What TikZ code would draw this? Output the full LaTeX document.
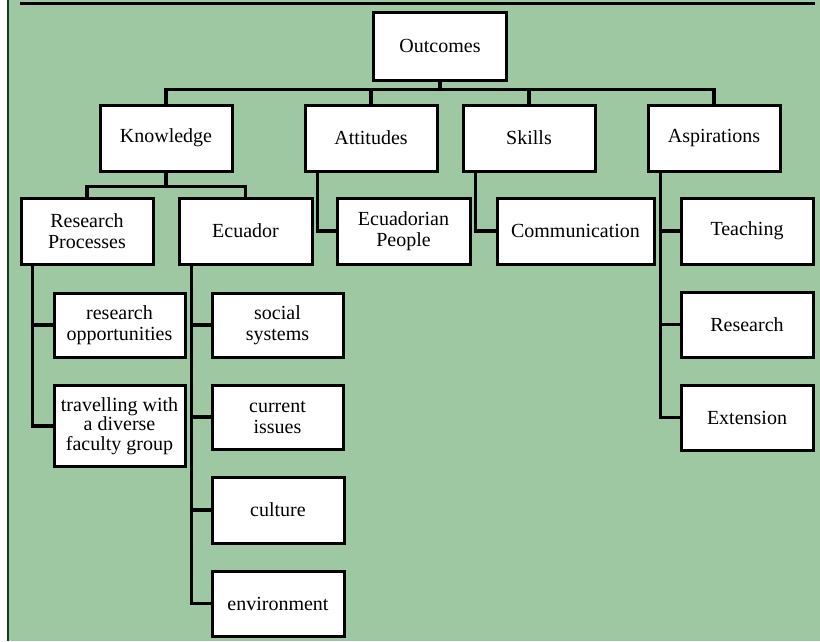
\documentclass[tikz,border=0pt]{standalone}
\usepackage{fontspec}
\setmainfont{Liberation Serif}
\definecolor{bggreen}{RGB}{158,200,161}
\definecolor{edgegreen}{RGB}{28,58,40}
\tikzset{
  box/.style={draw=black, fill=white, line width=3pt, inner sep=0pt, align=center,
    font=\fontsize{20}{21}\selectfont, minimum width=132pt, minimum height=66pt},
  conn/.style={draw=black, line width=3.1pt},
}
\begin{document}
\begin{tikzpicture}[x=1pt,y=-1pt]
\useasboundingbox (0,0) rectangle (820,641);
\fill[white] (0,0) rectangle (820,641);
\fill[bggreen] (9,0) rectangle (820,641);
\draw[edgegreen, line width=2.5pt] (8.2,0) coordinate (eTop) -- (8.2,641) coordinate (eBot);
\draw[black, line width=2.5pt] (20,3.5) coordinate (tL) -- (815,3.5) coordinate (tR);

% nodes
\node[box, minimum width=133pt, minimum height=68pt] (out) at (440,46) {Outcomes};
\node[box] (know) at (166,138) {Knowledge};
\node[box] (att) at (371,138) {Attitudes};
\node[box] (sk) at (529,138) {Skills};
\node[box] (asp) at (714,138) {Aspirations};

\node[box] (rp) at (87,231) {Research\\Processes};
\node[box, minimum width=133pt] (ec) at (245.5,231) {Ecuador};
\node[box, minimum width=133pt] (ep) at (403.5,231) {Ecuadorian\\People};
\node[box, minimum width=157pt] (com) at (575.5,231) {Communication};
\node[box] (tea) at (747,231) {Teaching};

\node[box, minimum width=131pt, minimum height=64pt] (ro) at (119.5,325) {research\\opportunities};
\node[box, minimum width=131pt, minimum height=81pt, font=\fontsize{20}{19.5}\selectfont] (tr) at (119.5,426) {travelling with\\a diverse\\faculty group};
\node[box, minimum width=131pt, minimum height=64pt] (ss) at (277.5,325) {social\\systems};
\node[box, minimum width=131pt, minimum height=64pt] (ci) at (277.5,417) {current\\issues};
\node[box] (cu) at (278,510) {culture};
\node[box, minimum height=65pt] (en) at (278,603.5) {environment};

\node[box, minimum height=65pt] (res) at (747,324.5) {Research};
\node[box, minimum height=65pt] (ext) at (747,417.5) {Extension};

% connectors
\draw[conn] (know.north) -- ++(0,-14) coordinate (b1) -- (asp.north |- b1) -- (asp.north);
\draw[conn] (out.south) -- (out.south |- b1);
\draw[conn] (att.north) -- (att.north |- b1);
\draw[conn] (sk.north) -- (sk.north |- b1);

\draw[conn] (know.south) -- ++(0,14) coordinate (b2);
\draw[conn] (rp.north) -- (rp.north |- b2) -- (ec.north |- b2) -- (ec.north);

\draw[conn] ([xshift=14pt]att.south west) |- (ep.west);
\draw[conn] ([xshift=14pt]sk.south west) |- (com.west);
\draw[conn] ([xshift=14pt]asp.south west) |- (ext.west);
\draw[conn] ([xshift=14pt]asp.south west) |- (tea.west);
\draw[conn] ([xshift=14pt]asp.south west) |- (res.west);

\draw[conn] ([xshift=13pt]rp.south west) |- (tr.west);
\draw[conn] ([xshift=13pt]rp.south west) |- (ro.west);

\draw[conn] ([xshift=14pt]ec.south west) |- (en.west);
\draw[conn] ([xshift=14pt]ec.south west) |- (ss.west);
\draw[conn] ([xshift=14pt]ec.south west) |- (ci.west);
\draw[conn] ([xshift=14pt]ec.south west) |- (cu.west);
\end{tikzpicture}
\end{document}
